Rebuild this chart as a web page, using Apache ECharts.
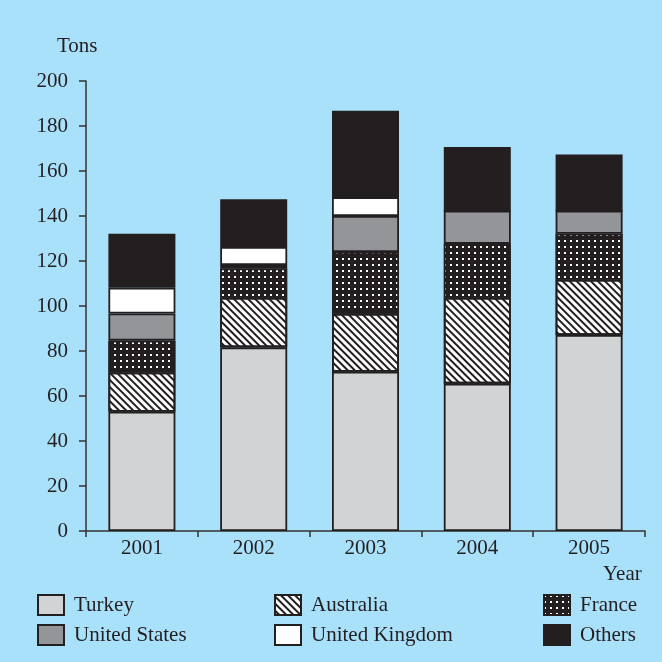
<!DOCTYPE html>
<html><head><meta charset="utf-8">
<script src="https://cdn.jsdelivr.net/npm/echarts@6/dist/echarts.min.js"></script>
<style>html,body{margin:0;padding:0;background:#a9e0fa}#c{width:662px;height:662px}</style>
</head><body><div id="c"></div>
<script>
const years = ['2001','2002','2003','2004','2005'];
const turkey = [53, 81.6, 70.8, 65.5, 87.1];
const australia = [17.5, 22.1, 25.8, 38.2, 24.6];
const france = [14.1, 13.0, 27.4, 23.9, 20.4];
const unitedStates = [12.1, 1.5, 16.0, 14.8, 10.3];
const unitedKingdom = [11.4, 8.0, 8.4, 0, 0];
const others = [24.0, 21.2, 38.4, 28.3, 24.9];
const yTicks = {min: 0, max: 200, interval: 20};

const FONT = 'Liberation Serif';
const DARK = '#231f20';
const border = {borderColor: DARK, borderWidth: 1.8};

function series(name, data, style) {
  return {name, type: 'bar', stack: 'total', data, barWidth: 67,
    itemStyle: Object.assign({}, border, style), emphasis: {disabled: true}};
}

const chart = echarts.init(document.getElementById('c'));
const legendBase = {orient: 'vertical', icon: 'rect', itemWidth: 26, itemHeight: 20, itemGap: 8, padding: 0,
  top: 594, textStyle: {fontFamily: FONT, fontSize: 21, color: DARK, padding: [0,0,0,5]}};
chart.setOption({
  backgroundColor: '#a9e0fa',
  animation: false,
  grid: {left: 86, right: 17, top: 81, bottom: 131},
  legend: [
    Object.assign({}, legendBase, {left: 37, data: ['Turkey', 'United States']}),
    Object.assign({}, legendBase, {left: 274, data: ['Australia', 'United Kingdom']}),
    Object.assign({}, legendBase, {left: 543, data: ['France', 'Others']})
  ],
  graphic: [
    {type: 'text', left: 57, top: 36, style: {text: 'Tons', font: '21px "Liberation Serif"', fill: DARK}},
    {type: 'text', left: 603, top: 564, style: {text: 'Year', font: '21px "Liberation Serif"', fill: DARK}}
  ],
  xAxis: {type: 'category', data: years,
    axisLine: {lineStyle: {color: '#333', width: 1.5}},
    axisTick: {show: true, length: 6, lineStyle: {color: '#333', width: 1.5}},
    axisLabel: {fontFamily: FONT, fontSize: 21, color: DARK, margin: 7}},
  yAxis: {type: 'value', min: yTicks.min, max: yTicks.max, interval: yTicks.interval,
    splitLine: {show: false},
    axisLine: {show: true, lineStyle: {color: '#333', width: 1.5}},
    axisTick: {show: true, length: 7, lineStyle: {color: '#333', width: 1.5}},
    axisLabel: {fontFamily: FONT, fontSize: 21, color: DARK, margin: 18}},
  series: [
    series('Turkey', turkey, {color: '#d1d3d4'}),
    series('Australia', australia, {color: '#ffffff', decal: {symbol: 'rect', symbolSize: 1, color: DARK,
      dashArrayX: [1, 0], dashArrayY: [1.2, 2.5], rotation: Math.PI / 4}}),
    series('France', france, {color: DARK, decal: {symbol: 'rect', symbolSize: 1, color: '#ffffff',
      dashArrayX: [1.6, 3.2], dashArrayY: [1.6, 3.2], rotation: 0}}),
    series('United States', unitedStates, {color: '#939598'}),
    series('United Kingdom', unitedKingdom, {color: '#ffffff'}),
    series('Others', others, {color: DARK})
  ]
});
</script></body></html>
